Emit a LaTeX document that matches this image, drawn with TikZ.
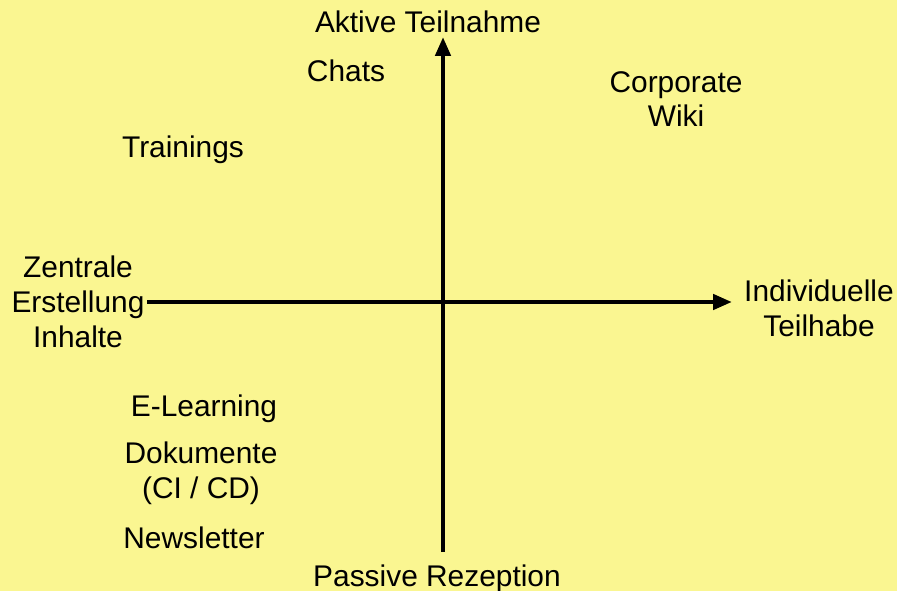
\documentclass[tikz,border=0pt]{standalone}
\usepackage{fontspec}
\setmainfont{Liberation Sans}
\usetikzlibrary{arrows.meta}
\definecolor{bgyellow}{RGB}{250,246,145}
\tikzset{
  lbl/.style={inner sep=0pt, anchor=base, align=center, font=\fontsize{30}{35}\selectfont},
  axis/.style={line width=4.5bp, draw=black, -{Triangle[length=19bp,width=15bp]}}
}
\begin{document}
\begin{tikzpicture}[x=1bp,y=-1bp]
\fill[bgyellow] (0,0) rectangle (897,591);
\useasboundingbox (0,0) rectangle (897,591);
\coordinate (top) at (443,37);
\coordinate (bot) at (443,552);
\coordinate (left) at (147,302);
\coordinate (right) at (732,302);
\draw[axis] (bot) -- (top);
\draw[axis] (left) -- (right);
\node[lbl] (aktiv) at (428,33) {Aktive Teilnahme};
\node[lbl] (passiv) at (437,586) {Passive Rezeption};
\node[lbl] (chats) at (346,82) {Chats};
\node[lbl] (wiki) at (676,127) {Corporate\\Wiki};
\node[lbl] (train) at (183,158) {Trainings};
\node[lbl] (zentral) at (78,347) {Zentrale\\Erstellung\\Inhalte};
\node[lbl] (indiv) at (819,336) {Individuelle\\Teilhabe};
\node[lbl] (elearn) at (204,416) {E-Learning};
\node[lbl] (doku) at (201,498) {Dokumente\\(CI / CD)};
\node[lbl] (news) at (194,548) {Newsletter};
\end{tikzpicture}
\end{document}
